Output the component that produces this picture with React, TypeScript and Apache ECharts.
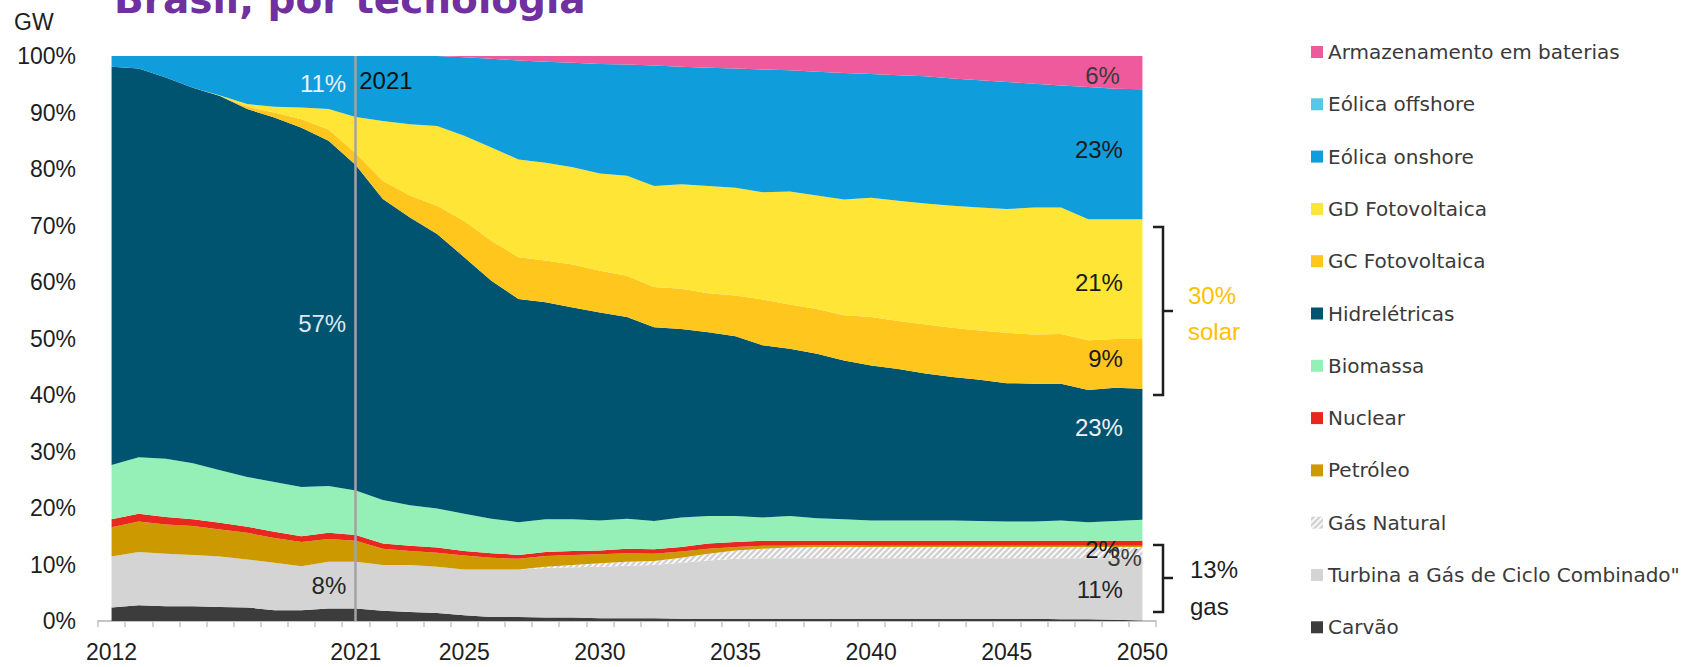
import React, { useEffect, useRef } from 'react';
import * as echarts from 'echarts';

const years = ['2012','2013','2014','2015','2016','2017','2018','2019','2020','2021','2022','2023','2024','2025','2026','2027','2028','2029','2030','2031','2032','2033','2034','2035','2036','2037','2038','2039','2040','2041','2042','2043','2044','2045','2046','2047','2048','2049','2050'];
const shownYears = ['2012','2021','2025','2030','2035','2040','2045','2050'];
const yTicks = [0, 10, 20, 30, 40, 50, 60, 70, 80, 90, 100];

const carvao = [2.4,2.8,2.6,2.6,2.5,2.4,1.9,1.9,2.2,2.2,1.8,1.6,1.4,1.0,0.7,0.7,0.6,0.6,0.5,0.5,0.5,0.4,0.4,0.4,0.4,0.4,0.4,0.4,0.4,0.4,0.4,0.4,0.4,0.4,0.4,0.3,0.3,0.2,0.1];
const turbina = [9.0,9.4,9.3,9.1,8.9,8.5,8.4,7.8,8.3,8.3,8.1,8.3,8.2,8.1,8.4,8.4,8.8,8.9,9.1,9.3,9.4,9.9,10.3,10.6,10.7,10.7,10.7,10.7,10.7,10.7,10.7,10.7,10.7,10.7,10.7,10.8,10.8,10.9,11.0];
const gasNatural = [0,0,0,0,0,0,0,0,0,0,0,0,0,0,0,0,0.2,0.4,0.6,0.7,0.7,0.9,1.2,1.5,1.7,1.9,2.0,2.0,2.0,2.0,2.0,2.0,2.0,2.0,2.0,2.0,2.0,2.0,2.0];
const petroleo = [5.2,5.4,5.2,5.1,4.8,4.7,4.4,4.3,4.0,3.7,2.9,2.5,2.5,2.5,2.1,1.9,1.9,1.8,1.6,1.5,1.3,1.1,0.9,0.6,0.5,0.3,0.3,0.3,0.2,0.2,0.2,0.2,0.2,0.2,0.2,0.2,0.2,0.2,0.2];
const nuclear = [1.4,1.4,1.3,1.2,1.2,1.1,1.1,1.0,1.1,1.0,0.9,0.9,0.9,0.8,0.8,0.7,0.7,0.7,0.7,0.8,0.8,0.8,0.9,0.9,0.9,0.9,0.8,0.8,0.9,0.9,0.9,0.9,0.9,0.9,0.9,0.9,0.9,0.9,0.9];
const biomassa = [9.6,10.0,10.3,9.9,9.3,8.8,8.8,8.7,8.3,7.9,7.7,7.2,6.9,6.6,6.1,5.8,5.8,5.6,5.3,5.3,5.0,5.2,4.9,4.6,4.1,4.4,4.0,3.8,3.6,3.6,3.6,3.6,3.5,3.4,3.4,3.6,3.3,3.5,3.7];
const hidro = [70.5,68.8,67.5,66.5,66.2,65.1,64.5,63.6,61.1,57.6,53.3,50.9,48.6,45.4,42.1,39.5,38.4,37.5,36.8,35.7,34.3,33.4,32.5,31.8,30.5,29.6,29.1,28.1,27.4,26.8,26.0,25.4,25.0,24.5,24.4,24.2,23.4,23.6,23.2];
const gcFoto = [0,0,0,0,0,0.4,0.9,1.5,2.0,2.1,3.2,3.9,5.0,6.4,7.1,7.4,7.4,7.6,7.4,7.3,7.1,7.1,6.9,7.2,8.1,7.8,7.9,8.0,8.6,8.5,8.7,8.7,8.7,8.9,8.7,8.8,8.8,8.6,8.8];
const gdFoto = [0,0,0,0,0.1,0.5,1.0,2.1,3.6,6.4,10.6,12.6,14.1,15.1,16.5,17.3,17.3,17.2,17.2,17.7,17.9,18.5,19.0,19.1,19.0,20.0,20.1,20.5,21.1,21.3,21.4,21.6,21.8,21.9,22.5,22.4,21.4,21.2,21.2];
const eolicaOnshore = [1.9,2.2,3.8,5.6,7.0,8.5,9.0,9.1,9.4,10.8,11.5,12.1,12.4,13.9,15.7,17.5,17.9,18.5,19.4,19.7,21.3,20.8,20.9,21.1,21.7,21.5,21.9,22.4,21.9,22.2,22.5,22.5,22.5,22.5,21.9,21.6,23.4,23.1,23.0];
const eolicaOffshore = [0,0,0,0,0,0,0,0,0,0,0,0,0,0,0,0,0,0,0,0,0,0,0,0,0,0,0,0,0,0,0,0,0,0,0,0,0,0,0];
const baterias = [0,0,0,0,0,0,0,0,0,0,0,0,0,0.2,0.5,0.8,1.0,1.2,1.4,1.5,1.7,1.9,2.1,2.2,2.4,2.5,2.8,3.0,3.2,3.4,3.6,4.0,4.3,4.6,4.9,5.2,5.5,5.8,5.9];

const seriesNames = ['Carvão', 'Turbina a Gás de Ciclo Combinado"', 'Gás Natural', 'Petróleo', 'Nuclear', 'Biomassa', 'Hidrelétricas', 'GC Fotovoltaica', 'GD Fotovoltaica', 'Eólica onshore', 'Eólica offshore', 'Armazenamento em baterias'];
const seriesData = [carvao, turbina, gasNatural, petroleo, nuclear, biomassa, hidro, gcFoto, gdFoto, eolicaOnshore, eolicaOffshore, baterias];
const seriesColors = ['#3c3c3c', '#d4d4d4', 'HATCH', '#cc9a00', '#e8281e', '#94f0b6', '#005470', '#ffc61e', '#ffe535', '#0f9ddb', '#58c6e8', '#ef5a9c'];

// annotation labels: [text, year, value, side, distance, color]
const annotations: [string, string, number, string, number, string][] = [
  ['2021', '2021', 95.7, 'right', 3, '#111111'],
  ['11%', '2021', 95.2, 'left', 9, '#e8f3fb'],
  ['57%', '2021', 52.6, 'left', 9, '#dde9f0'],
  ['8%', '2021', 6.2, 'left', 9, '#262626'],
  ['6%', '2050', 96.6, 'left', 22, '#3a3a3a'],
  ['23%', '2050', 83.5, 'left', 19, '#1a1a1a'],
  ['21%', '2050', 60.0, 'left', 19, '#1a1a1a'],
  ['9%', '2050', 46.4, 'left', 19, '#1a1a1a'],
  ['23%', '2050', 34.3, 'left', 19, '#edf2f5'],
  ['2%', '2050', 12.7, 'left', 22, '#1a1a1a'],
  ['3%', '2050', 11.3, 'left', 0, '#3a3a3a'],
  ['11%', '2050', 5.5, 'left', 19, '#262626'],
];

function makeHatch(): HTMLCanvasElement {
  const c = document.createElement('canvas');
  c.width = 6;
  c.height = 6;
  const ctx = c.getContext('2d')!;
  ctx.fillStyle = '#d2d2d2';
  ctx.fillRect(0, 0, 6, 6);
  ctx.strokeStyle = '#ffffff';
  ctx.lineWidth = 1.6;
  ctx.beginPath();
  ctx.moveTo(-1, 7); ctx.lineTo(7, -1);
  ctx.moveTo(-4, 4); ctx.lineTo(4, -4);
  ctx.moveTo(2, 10); ctx.lineTo(10, 2);
  ctx.stroke();
  return c;
}

export default function App() {
  const ref = useRef<HTMLDivElement>(null);
  useEffect(() => {
    if (!ref.current) return;
    const chart = echarts.init(ref.current, null, { renderer: 'svg' });
    const hatch = { image: makeHatch(), repeat: 'repeat', imageWidth: 6, imageHeight: 6 } as any;
    const font = 'Liberation Sans';

    const series: any[] = seriesNames.map((name, i) => {
      const color = seriesColors[i] === 'HATCH' ? hatch : seriesColors[i];
      return {
        name,
        type: 'line',
        stack: 'total',
        data: seriesData[i],
        symbol: 'none',
        showSymbol: false,
        smooth: false,
        silent: true,
        lineStyle: { width: 0 },
        itemStyle: { color },
        areaStyle: { color, opacity: 1 },
        emphasis: { disabled: true },
      };
    });
    const top = series[series.length - 1];
    top.markLine = {
      silent: true,
      symbol: ['none', 'none'],
      label: { show: false },
      lineStyle: { color: '#a3a3a3', width: 2.5, type: 'solid' },
      data: [{ xAxis: '2021' }],
      z: 20,
    };
    top.markPoint = {
      silent: true,
      symbol: 'circle',
      symbolSize: 1,
      itemStyle: { color: 'rgba(0,0,0,0)' },
      data: annotations.map(([text, yr, val, side, dist, color]) => ({
        coord: [yr, val],
        value: text,
        label: {
          show: true,
          formatter: text,
          position: side,
          distance: dist,
          color,
          fontSize: 24,
          fontFamily: font,
        },
      })),
      z: 21,
    };

    chart.setOption({
      animation: false,
      backgroundColor: '#ffffff',
      grid: { left: 98, right: 540, top: 56, bottom: 46, containLabel: false },
      xAxis: {
        type: 'category',
        data: years,
        boundaryGap: true,
        axisLine: { show: true, lineStyle: { color: '#c4c4c4', width: 2 } },
        axisTick: { show: true, interval: 0, length: 6, lineStyle: { color: '#c4c4c4', width: 1.5 } },
        axisLabel: {
          interval: (_idx: number, val: string) => shownYears.includes(val),
          color: '#1e1e1e',
          fontSize: 23,
          fontFamily: font,
          margin: 19,
        },
      },
      yAxis: {
        type: 'value',
        min: yTicks[0],
        max: yTicks[yTicks.length - 1],
        interval: 10,
        axisLine: { show: false },
        axisTick: { show: false },
        splitLine: { show: false },
        axisLabel: { formatter: '{value}%', color: '#1e1e1e', fontSize: 23, fontFamily: font, margin: 22 },
      },
      legend: {
        orient: 'vertical',
        left: 1306,
        top: 37,
        icon: 'rect',
        itemWidth: 12,
        itemHeight: 12,
        itemGap: 32.3,
        selectedMode: false,
        data: [...seriesNames].reverse(),
        textStyle: { color: '#3a3a3a', fontSize: 20, fontFamily: 'DejaVu Sans' },
      },
      graphic: [
        { type: 'text', x: 114, y: -1, style: { text: 'Brasil, por tecnologia', fill: '#7030a0', font: 'bold 39px "DejaVu Sans"', verticalAlign: 'middle', align: 'left' } },
        { type: 'text', x: 14, y: 22, style: { text: 'GW', fill: '#1e1e1e', font: '23px "Liberation Sans"', verticalAlign: 'middle', align: 'left' } },
        { type: 'text', x: 1188, y: 295, style: { text: '30%', fill: '#ffc000', font: '24px "Liberation Sans"', verticalAlign: 'middle', align: 'left' } },
        { type: 'text', x: 1188, y: 331, style: { text: 'solar', fill: '#ffc000', font: '24px "Liberation Sans"', verticalAlign: 'middle', align: 'left' } },
        { type: 'text', x: 1190, y: 569, style: { text: '13%', fill: '#1e1e1e', font: '24px "Liberation Sans"', verticalAlign: 'middle', align: 'left' } },
        { type: 'text', x: 1190, y: 606, style: { text: 'gas', fill: '#1e1e1e', font: '24px "Liberation Sans"', verticalAlign: 'middle', align: 'left' } },
        { type: 'polyline', shape: { points: [[1153, 227], [1163, 227], [1163, 395], [1153, 395]] }, style: { stroke: '#1e1e1e', lineWidth: 2.5, fill: 'none' } },
        { type: 'line', shape: { x1: 1163, y1: 311, x2: 1173, y2: 311 }, style: { stroke: '#1e1e1e', lineWidth: 2.5 } },
        { type: 'polyline', shape: { points: [[1153, 545], [1163, 545], [1163, 612], [1153, 612]] }, style: { stroke: '#1e1e1e', lineWidth: 2.5, fill: 'none' } },
        { type: 'line', shape: { x1: 1163, y1: 578, x2: 1173, y2: 578 }, style: { stroke: '#1e1e1e', lineWidth: 2.5 } },
      ],
      series,
    });
    return () => chart.dispose();
  }, []);

  return (
    <div
      ref={ref}
      style={{ position: 'fixed', left: 0, top: 0, width: 1696, height: 667, background: '#fff' }}
    />
  );
}
